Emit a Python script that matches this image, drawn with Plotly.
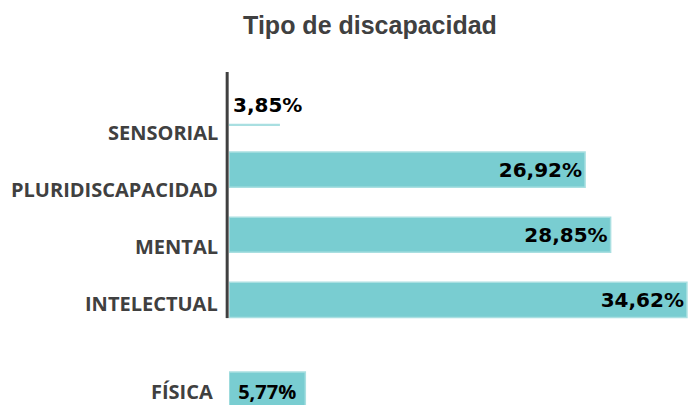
import plotly.graph_objects as go

# ---- data ----
categories = ["FÍSICA", "INTELECTUAL", "MENTAL", "PLURIDISCAPACIDAD", "SENSORIAL"]
values = [5.77, 34.62, 28.85, 26.92, 3.85]
value_labels = ["5,77%", "34,62%", "28,85%", "26,92%", "3,85%"]
title_text = "Tipo de discapacidad"

# ---- styles ----
BAR = "#79CDD1"
EDGE = "#A9DFE1"
GRAY = "#404040"
label_shift = [-27, -4, -12, -20, -28]   # px vertical shift of category labels
label_xshift = [-14, -9, -9, -9, -9]

fig = go.Figure()

# main three bars (value text inside, right aligned)
main_idx = [1, 2, 3]
fig.add_trace(go.Bar(
    y=[categories[i] for i in main_idx],
    x=[values[i] for i in main_idx],
    orientation="h",
    width=0.54,
    marker=dict(color=BAR, line=dict(color=EDGE, width=1.5)),
    text=[value_labels[i] for i in main_idx],
    textposition="inside",
    insidetextanchor="end",
    textfont=dict(family="DejaVu Sans", size=20, color="black", weight="bold"),
    hoverinfo="skip",
))

# FÍSICA bar (shifted down, text centred)
fig.add_trace(go.Bar(
    y=[categories[0]],
    x=[values[0]],
    orientation="h",
    width=0.58,
    offset=-0.69,
    marker=dict(color=BAR, line=dict(color=EDGE, width=1.5)),
    text=[value_labels[0]],
    textposition="inside",
    insidetextanchor="middle",
    textfont=dict(family="Open Sans", size=20, color="black", weight="bold"),
    hoverinfo="skip",
))

# SENSORIAL (rendered as a thin line)
fig.add_trace(go.Bar(
    y=[categories[4]],
    x=[values[4]],
    orientation="h",
    width=0.025,
    offset=-0.32,
    marker=dict(color=EDGE, line=dict(width=0)),
    textposition="none",
    hoverinfo="skip",
))

annotations = []
for i, c in enumerate(categories):
    annotations.append(dict(
        x=0, xref="paper", y=c, yref="y",
        text=c, showarrow=False, xanchor="right", yanchor="middle",
        xshift=label_xshift[i], yshift=label_shift[i],
        font=dict(family="Open Sans", size=20, color=GRAY, weight="bold"),
    ))
annotations.append(dict(
    x=0, xref="x", y=categories[4], yref="y",
    text=value_labels[4], showarrow=False, xanchor="left", yanchor="middle",
    xshift=2,
    font=dict(family="DejaVu Sans", size=20, color="black", weight="bold"),
))

fig.add_shape(type="line", xref="paper", yref="y",
              x0=-0.004, x1=-0.004, y0=0.72, y1=4.55,
              line=dict(color=GRAY, width=3))

fig.update_layout(
    width=688, height=405,
    margin=dict(l=229, r=0, t=72, b=0),
    paper_bgcolor="white", plot_bgcolor="white",
    barmode="overlay",
    showlegend=False,
    title=dict(text=title_text, x=370 / 688, xref="container", xanchor="center",
               y=1 - 25 / 405, yref="container", yanchor="middle",
               font=dict(family="Liberation Sans", size=25, color=GRAY, weight="bold")),
    xaxis=dict(range=[0, 34.7], visible=False, fixedrange=True),
    yaxis=dict(type="category", categoryorder="array", categoryarray=categories,
               range=[-0.615, 4.5], showticklabels=False, showgrid=False,
               zeroline=False, showline=False, ticks=""),
    annotations=annotations,
    uniformtext=dict(mode=False),
)

fig.write_html(
    "out.html",
    config={"displayModeBar": False},
    post_script="document.body.style.margin='0';document.body.style.overflow='hidden';",
)
